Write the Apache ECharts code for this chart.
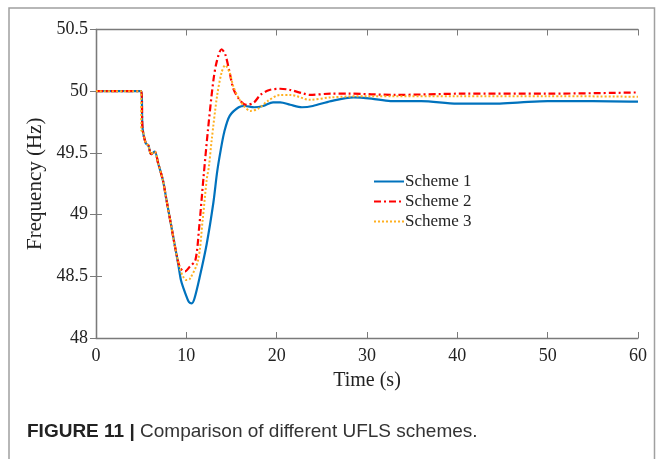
<!DOCTYPE html>
<html>
<head>
<meta charset="utf-8">
<title>Comparison of different UFLS schemes</title>
<script src="https://cdn.jsdelivr.net/npm/echarts@6/dist/echarts.min.js"></script>
<style>
  html, body { margin: 0; padding: 0; background: #fff; }
  #main { width: 664px; height: 459px; }
</style>
</head>
<body>
<div id="main"></div>
<script>
// time (s), frequency (Hz)
var scheme1 = [
  [0, 50], [5, 50], [5.15, 49.7], [5.5, 49.58], [5.8, 49.56], [6.1, 49.49], [6.5, 49.51],
  [6.9, 49.41], [7.4, 49.28], [7.8, 49.12], [8.3, 48.92], [8.8, 48.72], [9.1, 48.6],
  [9.4, 48.47], [9.7, 48.4], [10.0, 48.34], [10.3, 48.29], [10.6, 48.28], [10.9, 48.32],
  [11.5, 48.5], [12.25, 48.76], [13.0, 49.1], [13.4, 49.34], [13.8, 49.52], [14.2, 49.67],
  [14.8, 49.8], [15.8, 49.87], [16.5, 49.88], [17.5, 49.87], [18.5, 49.88], [19.6, 49.91],
  [20.4, 49.91], [21.5, 49.89], [22.8, 49.87], [24, 49.88], [26, 49.92], [28.5, 49.95],
  [30.5, 49.94], [32.6, 49.92], [36, 49.92], [40, 49.9], [44.4, 49.9], [47, 49.91],
  [50, 49.92], [55, 49.92], [60, 49.915]
];
var scheme2 = [
  [0, 50], [5, 50], [5.15, 49.7], [5.5, 49.58], [5.8, 49.56], [6.1, 49.49], [6.5, 49.51],
  [6.9, 49.41], [7.4, 49.28], [7.8, 49.12], [8.3, 48.92], [8.8, 48.72], [9.3, 48.57],
  [9.85, 48.54], [10.4, 48.58], [11.0, 48.63], [11.4, 48.88], [11.9, 49.3], [12.4, 49.69],
  [13.0, 50.09], [13.4, 50.25], [13.9, 50.34], [14.3, 50.3], [14.8, 50.15], [15.2, 50.02],
  [15.8, 49.94], [16.3, 49.9], [16.7, 49.89], [17.5, 49.91], [18.2, 49.97], [19.2, 50.01],
  [20.4, 50.02], [21.5, 50.01], [23, 49.98], [23.7, 49.97], [26, 49.98], [28, 49.98],
  [33, 49.97], [40.6, 49.98], [50, 49.98], [60, 49.99]
];
var scheme3 = [
  [0, 50], [5, 50], [5.02, 49.68], [5.15, 49.68], [5.5, 49.58], [5.8, 49.56], [6.1, 49.49],
  [6.5, 49.51], [6.9, 49.41], [7.4, 49.28], [7.8, 49.12], [8.3, 48.92], [8.8, 48.72],
  [9.3, 48.56], [9.7, 48.49], [10.0, 48.47], [10.4, 48.48], [11.3, 48.63], [11.8, 48.95],
  [12.25, 49.28], [12.5, 49.39], [12.8, 49.6], [13.4, 49.96], [13.9, 50.15], [14.3, 50.21],
  [14.8, 50.15], [15.2, 50.04], [15.9, 49.93], [16.5, 49.87], [17.1, 49.84], [18, 49.86],
  [19, 49.92], [20.4, 49.97], [21.5, 49.97], [23.7, 49.93], [26, 49.95], [30, 49.96],
  [40, 49.96], [50, 49.96], [60, 49.955]
];
var seriesNames = ['Scheme 1', 'Scheme 2', 'Scheme 3'];
var caption = 'Comparison of different UFLS schemes.';

var chart = echarts.init(document.getElementById('main'));
var serif = '"Liberation Serif", "Times New Roman", serif';
var sans = '"Liberation Sans", Arial, sans-serif';
var axisGrey = '#7a7a7a';

var tickLabel = { color: '#222', fontFamily: serif, fontSize: 18 };

function boxAxis(pos) {
  // secondary axes to close the box, ticks only
  return {
    type: 'value', position: pos, min: pos === 'top' ? 0 : 48,
    max: pos === 'top' ? 60 : 50.5, interval: pos === 'top' ? 10 : 0.5,
    axisLine: { show: true, lineStyle: { color: axisGrey, width: 1.3 } },
    axisTick: { show: true, inside: true, length: 6, lineStyle: { color: axisGrey } },
    axisLabel: { show: false }, splitLine: { show: false }
  };
}

chart.setOption({
  backgroundColor: '#fff',
  animation: false,
  grid: { left: 96, top: 29.5, right: 26, bottom: 121 },
  graphic: [
    {
      type: 'polyline', silent: true,
      shape: { points: [[9, 470], [9, 8], [654.5, 8], [654.5, 470]] },
      style: { stroke: '#a0a0a0', lineWidth: 1.5, fill: null }
    },
    {
      type: 'text', left: 27, top: 422,
      style: {
        text: '{b|FIGURE 11 |} ' + caption,
        rich: {
          b: { fontWeight: 'bold', fontSize: 19, fontFamily: sans, fill: '#222' }
        },
        fontSize: 19, fontFamily: sans, fill: '#333'
      }
    }
  ],
  legend: {
    orient: 'vertical', left: 368, top: 168,
    itemWidth: 30, itemHeight: 12, itemGap: 3,
    itemStyle: { opacity: 0 },
    textStyle: { fontFamily: serif, fontSize: 17, color: '#222', padding: [0, 0, 0, -4] },
    data: seriesNames
  },
  xAxis: [{
    type: 'value', min: 0, max: 60, interval: 10,
    name: 'Time (s)', nameLocation: 'middle', nameGap: 33,
    nameTextStyle: { fontFamily: serif, fontSize: 20, color: '#222' },
    axisLine: { show: true, lineStyle: { color: axisGrey, width: 1.3 } },
    axisTick: { show: true, inside: true, length: 6, lineStyle: { color: axisGrey } },
    axisLabel: Object.assign({ margin: 9 }, tickLabel),
    splitLine: { show: false }
  }, boxAxis('top')],
  yAxis: [{
    type: 'value', min: 48, max: 50.5, interval: 0.5,
    name: 'Frequency (Hz)', nameLocation: 'middle', nameGap: 47,
    nameTextStyle: { fontFamily: serif, fontSize: 21, color: '#222' },
    axisLine: { show: true, lineStyle: { color: axisGrey, width: 1.3 } },
    axisTick: { show: true, inside: true, length: 6, lineStyle: { color: axisGrey } },
    axisLabel: Object.assign({ margin: 8 }, tickLabel),
    splitLine: { show: false }
  }, boxAxis('right')],
  series: [
    {
      name: seriesNames[0], type: 'line', data: scheme1, smooth: 0.3,
      symbol: 'none', z: 3,
      itemStyle: { color: '#0072BD' },
      lineStyle: { color: '#0072BD', width: 2.2, type: 'solid' }
    },
    {
      name: seriesNames[1], type: 'line', data: scheme2, smooth: 0.3,
      symbol: 'none', z: 4,
      itemStyle: { color: '#FF0000' },
      lineStyle: { color: '#FF0000', width: 2.2, type: [7, 3, 2, 3] }
    },
    {
      name: seriesNames[2], type: 'line', data: scheme3, smooth: 0.3,
      symbol: 'none', z: 5,
      itemStyle: { color: '#FFB020' },
      lineStyle: { color: '#FFB020', width: 2, type: [2, 2] }
    }
  ]
});
</script>
</body>
</html>
